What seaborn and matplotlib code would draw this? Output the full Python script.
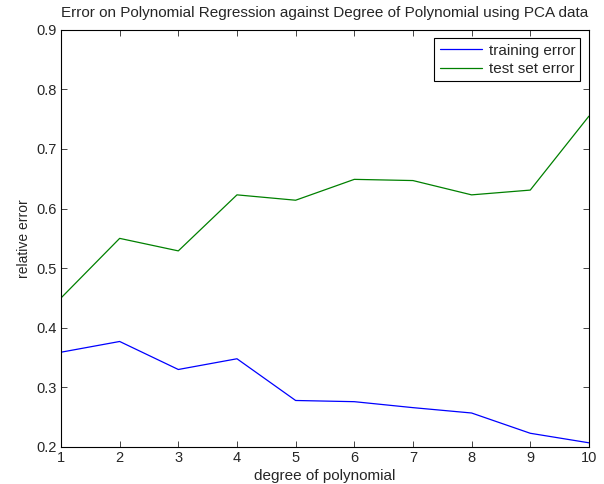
import numpy as np
import pandas as pd
import matplotlib
matplotlib.use('Agg')
import matplotlib.pyplot as plt
import seaborn as sns

# Values
degree = [1, 2, 3, 4, 5, 6, 7, 8, 9, 10]
training_error = [0.359, 0.377, 0.330, 0.348, 0.278, 0.276, 0.266, 0.257, 0.223, 0.207]
test_error = [0.450, 0.550, 0.529, 0.623, 0.614, 0.649, 0.647, 0.623, 0.631, 0.755]

df = pd.DataFrame({
    'degree': degree * 2,
    'error': training_error + test_error,
    'series': ['training error'] * len(degree) + ['test set error'] * len(degree),
})

sns.set_style('ticks')
plt.rcParams.update({
    'font.family': ['Liberation Sans', 'DejaVu Sans'],
    'font.size': 10,
    'xtick.direction': 'in',
    'ytick.direction': 'in',
    'xtick.top': True,
    'ytick.right': True,
    'axes.linewidth': 0.8,
    'axes.edgecolor': 'black',
})

fig = plt.figure(figsize=(6.04, 4.84), dpi=100)
ax = fig.add_axes([0.101, 0.0765, 0.874, 0.862])

sns.lineplot(data=df, x='degree', y='error', hue='series',
             palette={'training error': '#0000ff', 'test set error': '#008000'},
             linewidth=0.9, ax=ax)

ax.set_xlim(1, 10)
ax.set_ylim(0.2, 0.9)
ax.set_xticks(range(1, 11))
ax.set_yticks([0.2, 0.3, 0.4, 0.5, 0.6, 0.7, 0.8, 0.9])
ax.set_yticklabels(['0.2', '0.3', '0.4', '0.5', '0.6', '0.7', '0.8', '0.9'])
ax.tick_params(length=4, width=0.6, labelsize=10.5, pad=3)
for s in ax.spines.values():
    s.set_visible(True)

ax.set_xlabel('degree of polynomial', fontsize=11, labelpad=2.5)
ax.set_ylabel('relative error', fontsize=10, labelpad=4)
ax.set_title('Error on Polynomial Regression against Degree of Polynomial using PCA data',
             fontsize=11, pad=9)

leg = ax.legend(loc='upper right', title=None, fontsize=11, fancybox=False,
                framealpha=1, edgecolor='black', handlelength=2.8,
                borderpad=0.35, labelspacing=0.3, handletextpad=0.4,
                borderaxespad=0.55)
leg.get_frame().set_linewidth(0.8)

fig.savefig('out.png', dpi=100)
